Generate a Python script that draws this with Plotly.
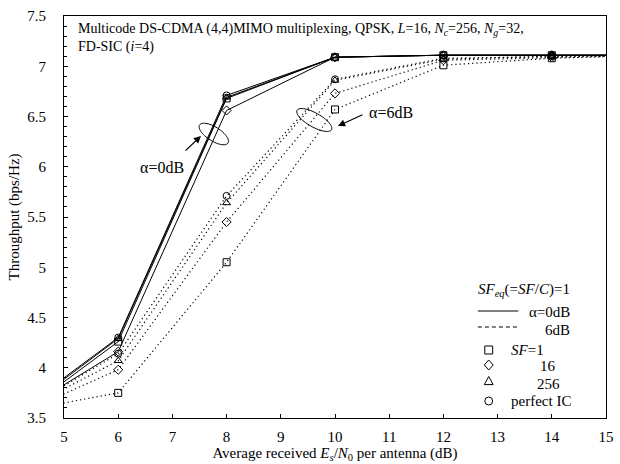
import math
import plotly.graph_objects as go

# ---- data ----
snr_db = [4, 6, 8, 10, 12, 14, 16]

thr_0db_perfect = [3.50, 4.30, 6.71, 7.09, 7.11, 7.11, 7.11]
thr_0db_sf256 = [3.48, 4.29, 6.69, 7.09, 7.11, 7.11, 7.11]
thr_0db_sf1 = [3.46, 4.26, 6.68, 7.09, 7.11, 7.11, 7.11]
thr_0db_sf16 = [3.50, 4.16, 6.56, 7.09, 7.11, 7.11, 7.11]

thr_6db_perfect = [3.50, 4.14, 5.71, 6.87, 7.08, 7.10, 7.11]
thr_6db_sf256 = [3.51, 4.07, 5.64, 6.86, 7.07, 7.10, 7.11]
thr_6db_sf16 = [3.50, 3.98, 5.45, 6.73, 7.06, 7.09, 7.11]
thr_6db_sf1 = [3.55, 3.75, 5.05, 6.57, 7.01, 7.08, 7.11]

x_ticks = [5, 6, 7, 8, 9, 10, 11, 12, 13, 14, 15]
y_ticks = [3.5, 4, 4.5, 5, 5.5, 6, 6.5, 7, 7.5]

FONT = "Times New Roman, Liberation Serif, serif"

# ---- geometry helpers (plot area in pixels) ----
L, R, T, B = 64, 614, 16, 418
W, H = 620, 464


def P(px, py):
    return ((px - L) / (R - L), (B - py) / (B - T))


def ellipse_path(cx, cy, a, b, ang_deg, n=60):
    th = math.radians(ang_deg)
    pts = []
    for i in range(n + 1):
        t = 2 * math.pi * i / n
        ex = a * math.cos(t)
        ey = b * math.sin(t)
        px = cx + ex * math.cos(th) - ey * math.sin(th)
        py = cy + ex * math.sin(th) + ey * math.cos(th)
        pts.append(P(px, py))
    s = "M %.5f %.5f " % pts[0]
    s += " ".join("L %.5f %.5f" % p for p in pts[1:])
    return s + " Z"


fig = go.Figure()

series = [
    (thr_0db_sf1, "square-open", "solid", 1.0),
    (thr_0db_sf16, "diamond-open", "solid", 1.0),
    (thr_0db_sf256, "triangle-up-open", "solid", 1.0),
    (thr_0db_perfect, "circle-open", "solid", 1.0),
    (thr_6db_sf1, "square-open", "1.2px,3px", 1.2),
    (thr_6db_sf16, "diamond-open", "1.2px,3px", 1.2),
    (thr_6db_sf256, "triangle-up-open", "1.2px,3px", 1.2),
    (thr_6db_perfect, "circle-open", "1.2px,3px", 1.2),
]
for ys, sym, dash, lw in series:
    fig.add_trace(go.Scatter(
        x=snr_db, y=ys, mode="lines+markers",
        line=dict(color="black", width=lw, dash=dash),
        marker=dict(symbol=sym, size=7, color="black", line=dict(width=1, color="black")),
        showlegend=False,
    ))

shapes = []
# ellipses
shapes.append(dict(type="path", xref="paper", yref="paper",
                   path=ellipse_path(216, 134, 17, 7, 32), line=dict(color="black", width=1)))
shapes.append(dict(type="path", xref="paper", yref="paper",
                   path=ellipse_path(318, 120, 20, 7, 29), line=dict(color="black", width=1)))

# legend line samples
x0, y0 = P(484, 311)
x1, _ = P(525, 311)
shapes.append(dict(type="line", xref="paper", yref="paper", x0=x0, x1=x1, y0=y0, y1=y0,
                   line=dict(color="black", width=1)))
x0, y0 = P(484, 327)
shapes.append(dict(type="line", xref="paper", yref="paper", x0=x0, x1=x1, y0=y0, y1=y0,
                   line=dict(color="black", width=1, dash="4px,3px")))

# legend markers
mx = 495
cx, cy = P(mx, 350)
hx, hy = 4 / (R - L), 4 / (B - T)
shapes.append(dict(type="rect", xref="paper", yref="paper", x0=cx - hx, x1=cx + hx,
                   y0=cy - hy, y1=cy + hy, line=dict(color="black", width=1)))
cx, cy = P(mx, 365)
dx, dy = 4.5 / (R - L), 5 / (B - T)
shapes.append(dict(type="path", xref="paper", yref="paper",
                   path="M %f %f L %f %f L %f %f L %f %f Z" % (cx, cy + dy, cx + dx, cy, cx, cy - dy, cx - dx, cy),
                   line=dict(color="black", width=1)))
cx, cy = P(mx, 381)
dx, dy = 4.5 / (R - L), 4.5 / (B - T)
shapes.append(dict(type="path", xref="paper", yref="paper",
                   path="M %f %f L %f %f L %f %f Z" % (cx, cy + dy, cx + dx, cy - dy * 0.8, cx - dx, cy - dy * 0.8),
                   line=dict(color="black", width=1)))
cx, cy = P(mx, 401)
shapes.append(dict(type="circle", xref="paper", yref="paper", x0=cx - hx, x1=cx + hx,
                   y0=cy - hy, y1=cy + hy, line=dict(color="black", width=1)))

ann = []


def text(px, py, s, size=15, xanchor="left"):
    x, y = P(px, py)
    ann.append(dict(x=x, y=y, xref="paper", yref="paper", text=s, showarrow=False,
                    xanchor=xanchor, yanchor="middle", font=dict(family=FONT, size=size, color="black")))


text(76, 29, "Multicode DS-CDMA (4,4)MIMO multiplexing, QPSK, <i>L</i>=16, <i>N</i><sub><i>c</i></sub>=256, <i>N</i><sub><i>g</i></sub>=32,", size=14)
text(76, 47, "FD-SIC (<i>i</i>=4)", size=14)
text(139, 167, "α=0dB", size=16)
text(371, 112, "α=6dB", size=16)

text(580, 290, "<i>SF</i><sub><i>eq</i></sub>(=<i>SF</i>/<i>C</i>)=1", size=15, xanchor="right")
text(580, 312, "α=0dB", xanchor="right")
text(580, 330, "6dB", xanchor="right")
text(516, 350, "<i>SF</i>=1")
text(545, 366, "16")
text(542, 384, "256")
text(516, 401, "perfect IC")

# arrows
for (hx_, hy_), (tx_, ty_) in [((203, 136), (186, 152)), ((342, 126), (368, 114))]:
    x, y = P(hx_, hy_)
    ann.append(dict(x=x, y=y, xref="paper", yref="paper", text="", showarrow=True,
                    ax=tx_ - hx_, ay=ty_ - hy_, arrowhead=2, arrowsize=1.2, arrowwidth=1.2,
                    arrowcolor="black", standoff=0, startstandoff=0))

fig.update_layout(
    width=W, height=H,
    margin=dict(l=L, r=W - R, t=T, b=H - B),
    paper_bgcolor="white", plot_bgcolor="white",
    font=dict(family=FONT, size=15, color="black"),
    shapes=shapes, annotations=ann,
    xaxis=dict(range=[5, 15], tickvals=x_ticks, ticktext=[str(v) for v in x_ticks],
               ticks="inside", ticklen=4, tickcolor="black", showgrid=False, zeroline=False,
               showline=True, linecolor="black", linewidth=1, mirror=True,
               ticklabelstandoff=5, ticklabeloverflow="allow",
               tickfont=dict(family=FONT, size=15),
               title=dict(text="Average received <i>E</i><sub><i>s</i></sub>/<i>N</i><sub>0</sub> per antenna (dB)",
                          font=dict(family=FONT, size=15), standoff=0)),
    yaxis=dict(range=[3.5, 7.5], tickvals=y_ticks, ticktext=[str(v) for v in y_ticks],
               ticks="inside", ticklen=4, tickcolor="black", showgrid=False, zeroline=False,
               showline=True, linecolor="black", linewidth=1, mirror=True,
               ticklabelstandoff=14,
               tickfont=dict(family=FONT, size=15),
               minor=dict(dtick=0.1, ticks="inside", ticklen=3, tickcolor="black", showgrid=False),
               title=dict(text="Throughput (bps/Hz)", font=dict(family=FONT, size=15), standoff=4)),
)

fig.write_html("out.html")
